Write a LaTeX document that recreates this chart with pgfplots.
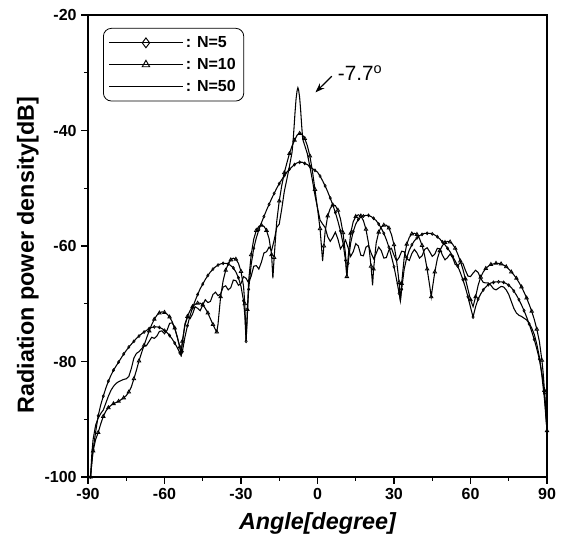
\documentclass[border=0pt]{standalone}
\usepackage{fontspec}
\setmainfont{Liberation Sans}
\usepackage{pgfplots}
\pgfplotsset{compat=1.18}
\usetikzlibrary{calc,arrows.meta}
\begin{document}
\begin{tikzpicture}
\begin{axis}[
  scale only axis, width=344.25pt, height=346.5pt,
  xmin=-90, xmax=90, ymin=-100, ymax=-20,
  xtick={-90,-60,-30,0,30,60,90},
  xticklabels={-90,-60,-30,0,30,60,90},
  ytick={-100,-80,-60,-40,-20},
  yticklabels={-100,-80,-60,-40,-20},
  minor x tick num=1, minor y tick num=1,
  tick align=outside, tick pos=left,
  major tick length=5pt, minor tick length=3pt,
  axis line style={line width=0.8pt},
  every tick/.style={line width=0.8pt, black},
  ticklabel style={font=\bfseries\fontsize{12}{14}\selectfont},
  xlabel={\bfseries\itshape Angle[degree]},
  ylabel={\bfseries Radiation power density[dB]},
  label style={font=\fontsize{17.5}{20}\selectfont},
  xlabel style={at={(axis description cs:0.5,-0.1)}, anchor=center},
  ylabel style={at={(axis description cs:-0.131,0.48)}, anchor=center},
  legend style={at={(axis description cs:0.0327,0.972)}, anchor=north west,
    rounded corners=6pt, draw=black, line width=0.6pt,
    font=\bfseries\fontsize{12}{14}\selectfont, row sep=2.5pt, inner sep=4pt},
  legend cell align=left,
  legend image code/.code={\draw[mark repeat=2,mark phase=2,#1] plot coordinates {(0pt,0pt) (27.5pt,0pt) (55pt,0pt)};},
]
\coordinate (ll) at (rel axis cs:0,0);
\coordinate (ur) at (rel axis cs:1,1);
\addlegendimage{black, line width=0.8pt, mark=diamond, mark size=3.7pt, mark options={solid,line width=0.7pt, fill=white}}
\addlegendentry{: N=5}
\addlegendimage{black, line width=0.8pt, mark=triangle, mark size=3.2pt, mark options={solid,line width=0.7pt, fill=white}}
\addlegendentry{: N=10}
\addlegendimage{black, line width=0.8pt}
\addlegendentry{: N=50}

% N=5
\addplot[forget plot, black, line width=0.8pt, mark=diamond, mark size=1.1pt, mark repeat=2, mark options={solid,line width=0.5pt}] coordinates {
(-89,-100) (-88.5,-97.5) (-88,-95.3) (-87,-92.2) (-86,-89.4) (-85,-87.5) (-84,-86) (-83,-84.6) (-82,-83.4) (-81,-82.4)
(-80,-81.5) (-79,-80.8) (-78,-80.1) (-77,-79.4) (-76,-78.7) (-75,-78.1) (-74,-77.5) (-73,-77) (-72,-76.5) (-71,-76)
(-70,-75.6) (-69,-75.2) (-68,-74.9) (-67,-74.6) (-66,-74.3) (-65,-74.1) (-64,-74) (-63,-74) (-62,-74.1) (-61,-74.3)
(-60,-74.6) (-59,-75) (-58,-75.5) (-57,-76.1) (-56,-76.8) (-55,-77.6) (-54,-78.5) (-53.5,-79) (-53,-78.3) (-52,-75.8)
(-51,-73.8) (-50,-72.1) (-49,-70.7) (-48,-69.5) (-47,-68.4) (-46,-67.4) (-45,-66.6) (-44,-65.8) (-43,-65.1) (-42,-64.5)
(-41,-64) (-40,-63.6) (-39,-63.3) (-38,-63.1) (-37,-63) (-36,-63) (-35,-63.1) (-34,-63.4) (-33,-63.8) (-32,-64.5)
(-31,-65.5) (-30,-67) (-29,-69.5) (-28.5,-72) (-28,-76.5) (-27.5,-72) (-27,-67.5) (-26,-63.2) (-25,-60.4) (-24,-58.6)
(-23,-57.2) (-22,-56) (-21,-54.9) (-20,-53.8) (-19,-52.8) (-18,-51.8) (-17,-50.9) (-16,-50) (-15,-49.2) (-14,-48.5)
(-13,-47.8) (-12,-47.2) (-11,-46.7) (-10,-46.3) (-9,-45.9) (-8,-45.6) (-7,-45.5) (-6,-45.5) (-5,-45.7) (-4,-45.9)
(-3,-46.2) (-2,-46.6) (-1,-46.9) (0,-47.2) (1,-47.9) (2,-48.7) (3,-49.6) (4,-50.6) (5,-51.7) (6,-52.9)
(7,-54.2) (8,-55.7) (9,-57.4) (10,-59.5) (11,-62.5) (11.5,-65.3) (12,-63) (13,-59.5) (14,-57.5) (15,-56.2)
(16,-55.4) (17,-55) (18,-54.8) (19,-54.7) (20,-54.7) (21,-54.9) (22,-55.2) (23,-55.6) (24,-56.2) (25,-56.9)
(26,-57.8) (27,-58.9) (28,-60.2) (29,-61.8) (30,-63.6) (31,-65.8) (32,-68.2) (32.5,-69.5) (33,-67.5) (34,-64)
(35,-62) (36,-60.7) (37,-59.8) (38,-59.1) (39,-58.6) (40,-58.2) (41,-58) (42,-57.8) (43,-57.8) (44,-57.8)
(45,-57.9) (46,-58.1) (47,-58.4) (48,-58.8) (49,-59.3) (50,-59.8) (51,-60.4) (52,-61) (53,-61.8) (54,-62.6)
(55,-63.5) (56,-64.6) (57,-65.8) (58,-67.2) (59,-68.8) (60,-70.6) (61,-72.3) (62,-70.5) (63,-69.2) (64,-68.3)
(65,-67.6) (66,-67.1) (67,-66.7) (68,-66.4) (69,-66.3) (70,-66.2) (71,-66.2) (72,-66.2) (73,-66.3) (74,-66.5)
(75,-66.8) (76,-67.2) (77,-67.8) (78,-68.5) (79,-69.3) (80,-70.2) (81,-71.2) (82,-72.3) (83,-73.5) (84,-74.8)
(85,-76.2) (86,-77.8) (87,-79.6) (88,-82) (89,-85.5) (90,-92)
};

% N=10
\addplot[forget plot, black, line width=0.8pt, mark=triangle, mark size=1.5pt, mark repeat=2, mark options={solid,line width=0.6pt}] coordinates {
(-89,-100) (-88.5,-97.5) (-88,-95.5) (-87,-93.5) (-86,-92.3) (-85,-90.8) (-84,-89.5) (-83,-88.6) (-82,-88) (-81,-87.6)
(-80,-87.3) (-79,-87.1) (-78,-86.9) (-77,-86.6) (-76,-86.3) (-75,-85.9) (-74,-85.3) (-73,-84.4) (-72,-83) (-71,-81.5)
(-70,-79.9) (-69,-78.5) (-68,-77.2) (-67,-75.9) (-66,-74.7) (-65,-73.6) (-64,-72.7) (-63,-72) (-62,-71.6) (-61,-71.4)
(-60,-71.5) (-59,-71.8) (-58,-72.3) (-57,-73.1) (-56,-74.2) (-55,-75.7) (-54,-77.5) (-53.5,-78.6) (-53,-76.5) (-52,-73.8)
(-51,-72.2) (-50,-71.2) (-49,-70.5) (-48,-70.1) (-47,-69.9) (-46,-69.9) (-45,-70.2) (-44,-70.8) (-43,-71.6) (-42,-72.6)
(-41,-73.6) (-40,-74.5) (-39.5,-74.9) (-39,-73.5) (-38,-68.8) (-37,-66) (-36,-64.2) (-35,-63.1) (-34,-62.4) (-33,-62.1)
(-32,-62.3) (-31,-63) (-30,-64.4) (-29,-67) (-28.5,-70) (-28,-76.5) (-27.5,-71) (-27,-66) (-26,-61.5) (-25,-58.8)
(-24,-57.3) (-23,-56.6) (-22,-56.4) (-21,-56.6) (-20,-57.3) (-19,-58.7) (-18,-61.5) (-17.5,-65.6) (-17,-62) (-16,-55.8)
(-15,-52.2) (-14,-49.5) (-13,-47.3) (-12,-45.6) (-11,-44) (-10,-42.7) (-9,-41.7) (-8,-40.8) (-7,-40.5) (-6,-40.7)
(-5,-41.4) (-4,-42.6) (-3,-44.4) (-2,-47) (-1,-50.2) (0,-53.5) (1,-57) (2,-62.6) (2.5,-60) (3,-57.5)
(4,-54.8) (5,-53.5) (6,-52.9) (7,-53) (8,-53.8) (9,-55.3) (10,-57.7) (11,-61.5) (11.5,-65.3) (12,-62)
(13,-57.8) (14,-55.8) (15,-54.9) (16,-54.6) (17,-54.8) (18,-55.6) (19,-57.1) (20,-59.5) (21,-63.5) (21.6,-66.8)
(22,-64) (23,-59.5) (24,-57.6) (25,-56.7) (26,-56.4) (27,-56.4) (28,-56.9) (29,-58) (30,-59.8) (31,-62.5)
(32,-66.3) (32.5,-69.5) (33,-66.5) (34,-62) (35,-59.7) (36,-58.5) (37,-57.9) (38,-57.8) (39,-58) (40,-58.7)
(41,-59.9) (42,-61.6) (43,-64) (44,-66.9) (44.6,-68.8) (45,-67.5) (46,-64.5) (47,-62.2) (48,-60.8) (49,-59.9)
(50,-59.4) (51,-59.2) (52,-59.3) (53,-59.7) (54,-60.4) (55,-61.4) (56,-62.6) (57,-64) (58,-65.7) (59,-67.5)
(60,-69.3) (61,-70.5) (62,-68.8) (63,-66.8) (64,-65.4) (65,-64.5) (66,-63.9) (67,-63.5) (68,-63.2) (69,-63.1)
(70,-63) (71,-63) (72,-63.1) (73,-63.3) (74,-63.6) (75,-64) (76,-64.5) (77,-65) (78,-65.6) (79,-66.3)
(80,-67.1) (81,-68) (82,-69) (83,-70.1) (84,-71.3) (85,-72.7) (86,-74.4) (87,-76.5) (88,-79.8) (88.5,-82)
(89,-85) (89.5,-88) (90,-92)
};

% N=50
\addplot[forget plot, black, line width=0.8pt] coordinates {
(-89,-100) (-88.5,-96) (-88,-93.5) (-87,-91) (-86,-89.8) (-85,-89) (-84,-88.4) (-83,-87.2) (-82,-86) (-81,-85)
(-80,-84.3) (-79,-83.8) (-78,-83.5) (-77,-83.3) (-76,-83.1) (-75,-83) (-74,-82.6) (-73,-81.2) (-72,-79.4) (-71,-78.6)
(-70,-78.3) (-69,-77.8) (-68,-77.3) (-67,-77.2) (-66,-76.5) (-65,-75.8) (-64,-76) (-63,-75.6) (-62,-74.8) (-61,-74.7)
(-60,-75.2) (-59,-74.6) (-58,-73.4) (-57,-73.3) (-56,-74.2) (-55,-75.8) (-54,-77.5) (-53.5,-78.6) (-53,-76.8) (-52,-73.5)
(-51,-72.3) (-50,-72.6) (-49,-71.8) (-48,-70.5) (-47,-70.8) (-46,-71.2) (-45,-70.2) (-44,-69.3) (-43,-69.8) (-42,-69.6)
(-41,-68.4) (-40,-68) (-39,-68.6) (-38,-68.3) (-37,-67.1) (-36,-66.9) (-35,-67.6) (-34,-67.2) (-33,-65.9) (-32,-66)
(-31,-66.8) (-30,-66.5) (-29,-65.3) (-28,-65.6) (-27,-66.4) (-26,-65.2) (-25,-63.5) (-24,-63.4) (-23,-64) (-22,-62.8)
(-21,-61.2) (-20,-61) (-19,-60.2) (-18,-60.8) (-17,-59) (-16,-56.8) (-15,-56.2) (-14,-53.5) (-13,-50.5) (-12,-48.4)
(-11,-46.2) (-10,-43.8) (-9.6,-42) (-9.2,-39.5) (-8.8,-36.8) (-8.4,-34.5) (-8,-33.1) (-7.7,-32.6) (-7.4,-33) (-7,-34.3)
(-6.6,-36.5) (-6.2,-39.2) (-5.8,-41.5) (-5,-42.6) (-4,-44) (-3,-46.2) (-2,-48.6) (-1,-51.2) (0,-53.4) (1,-55.5)
(2,-56.2) (3,-56.8) (4,-58.4) (5,-59.2) (6,-58.5) (7,-57.6) (8,-58.8) (9,-60.5) (10,-59.8) (11,-59)
(12,-60.3) (13,-61.8) (14,-61) (15,-59.6) (16,-60) (17,-61.6) (18,-61.7) (19,-60.2) (20,-59.9) (21,-61.2)
(22,-62.2) (23,-61.3) (24,-60.2) (25,-60.8) (26,-62.1) (27,-62) (28,-60.7) (29,-60.4) (30,-61.6) (31,-62.6)
(32,-62) (33,-60.9) (34,-61) (35,-62.2) (36,-62.5) (37,-61.3) (38,-60.6) (39,-61.2) (40,-62.1) (41,-61.7)
(42,-60.6) (43,-60.3) (44,-61) (45,-61.8) (46,-61.4) (47,-60.4) (48,-60.5) (49,-61.6) (50,-62.4) (51,-62)
(52,-61.4) (53,-62) (54,-63.2) (55,-63.4) (56,-62.9) (57,-63) (58,-64.2) (59,-65.2) (60,-65.3) (61,-64.7)
(62,-64.2) (63,-64.6) (64,-65.6) (65,-66.3) (66,-66.4) (67,-66.4) (68,-66.8) (69,-67.4) (70,-67.6) (71,-67.3)
(72,-67) (73,-67.1) (74,-67.6) (75,-68.4) (76,-69.6) (77,-70.8) (78,-71.6) (79,-72) (80,-72.2) (81,-72.5)
(82,-72.8) (83,-73.4) (84,-74.2) (85,-75.3) (86,-77) (87,-79.2) (88,-82.5) (89,-86.5) (90,-92)
};

\node[anchor=west, font=\fontsize{15.5}{18}\selectfont, inner sep=0pt] at (axis cs:7.9,-30.1) {-7.7\textsuperscript{o}};
\draw[-{Stealth[length=7pt,width=5pt]}, line width=0.9pt] (axis cs:5.6,-30.6) -- (axis cs:-0.8,-33.4);
\end{axis}
\pgfresetboundingbox
\path[use as bounding box] ($(ll)+(-66pt,-54pt)$) rectangle ($(ur)+(12pt,11.25pt)$);
\end{tikzpicture}
\end{document}
